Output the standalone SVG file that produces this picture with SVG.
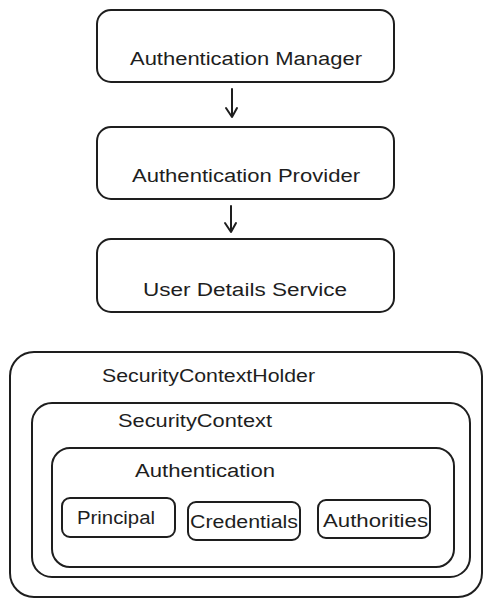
<svg xmlns="http://www.w3.org/2000/svg" width="497" height="606" viewBox="0 0 497 606">
<style>
.box{fill:none;stroke:#1e1e1e;stroke-width:2;stroke-linecap:round;stroke-linejoin:round}
.t{font-family:"Liberation Sans",Arial,sans-serif;font-size:18px;fill:#1e1e1e}
.c{stroke:#1e1e1e;stroke-width:2;fill:none;stroke-linecap:round;stroke-linejoin:round}
</style>
<rect width="497" height="606" fill="#ffffff"/>
<g id="auth-manager">
<rect class="box" x="97" y="10" width="297" height="72" rx="14"/>
<text class="t" x="130" y="65" textLength="232" lengthAdjust="spacingAndGlyphs">Authentication Manager</text>
</g>
<g id="auth-provider">
<rect class="box" x="97" y="127" width="297" height="72" rx="14"/>
<text class="t" x="132" y="182" textLength="228" lengthAdjust="spacingAndGlyphs">Authentication Provider</text>
</g>
<g id="user-details-service">
<rect class="box" x="97" y="239" width="297" height="73" rx="14"/>
<text class="t" x="143" y="296" textLength="204" lengthAdjust="spacingAndGlyphs">User Details Service</text>
</g>
<g id="security-context-holder">
<rect class="box" x="10" y="352" width="472" height="245" rx="24"/>
<text class="t" x="102" y="382" textLength="213" lengthAdjust="spacingAndGlyphs">SecurityContextHolder</text>
</g>
<g id="security-context">
<rect class="box" x="32" y="403" width="438" height="174" rx="20"/>
<text class="t" x="118" y="427" textLength="154" lengthAdjust="spacingAndGlyphs">SecurityContext</text>
</g>
<g id="authentication">
<rect class="box" x="52" y="448" width="402" height="119" rx="18"/>
<text class="t" x="135" y="477" textLength="140" lengthAdjust="spacingAndGlyphs">Authentication</text>
</g>
<g id="principal">
<rect class="box" x="62" y="498" width="113" height="39" rx="8"/>
<text class="t" x="77" y="524" textLength="78" lengthAdjust="spacingAndGlyphs">Principal</text>
</g>
<g id="credentials">
<rect class="box" x="188" y="502" width="112" height="38" rx="8"/>
<text class="t" x="190" y="528" textLength="108" lengthAdjust="spacingAndGlyphs">Credentials</text>
</g>
<g id="authorities">
<rect class="box" x="318" y="500" width="112" height="38" rx="8"/>
<text class="t" x="323" y="527" textLength="105" lengthAdjust="spacingAndGlyphs">Authorities</text>
</g>
<g id="connectors">
<path class="c" d="M232 89 L232 117 M226 108 L232 117 L237 108"/>
<path class="c" d="M231 206 L231 232 M225 223 L231 232 L236 223"/>
</g>
</svg>
